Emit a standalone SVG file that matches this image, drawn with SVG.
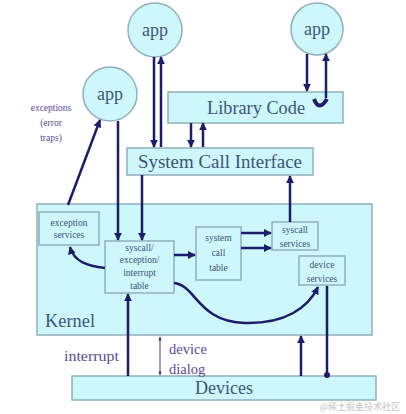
<svg xmlns="http://www.w3.org/2000/svg" width="406" height="414" viewBox="0 0 406 414">
<defs>
<style>
.box{fill:#cdf7fb;stroke:#8fb0bc;stroke-width:1.5}
.app{fill:#cdf7fb;stroke:#8fb0bc;stroke-width:1.5}
.t{font-family:"Liberation Serif",serif;fill:#3d5578}
.big{font-size:18px}
.sm{font-size:9.5px;text-anchor:middle}
.lab{font-family:"Liberation Serif",serif;fill:#5a4a96}
.ln{stroke:#1c1c6b;stroke-width:2.5;fill:none}
.thin{stroke:#3a3a7a;stroke-width:1;fill:none}
</style>
<marker id="ah" viewBox="0 0 10 10" refX="9" refY="5" markerWidth="3.2" markerHeight="3.2" orient="auto-start-reverse"><path d="M0,0 L10,5 L0,10 z" fill="#1c1c6b"/></marker>
<marker id="dt" viewBox="0 0 10 10" refX="5" refY="5" markerWidth="3" markerHeight="3"><circle cx="5" cy="5" r="4" fill="#1c1c6b"/></marker>
<marker id="sm" viewBox="0 0 10 10" refX="9" refY="5" markerWidth="4" markerHeight="4" orient="auto-start-reverse"><path d="M0,1 L10,5 L0,9 z" fill="#3a3a7a"/></marker>
</defs>
<rect width="406" height="414" fill="#ffffff"/>

<g id="kernel"><rect class="box" x="37" y="204" width="335" height="131"/><text class="t big" x="45" y="327" textLength="50" lengthAdjust="spacingAndGlyphs">Kernel</text></g>
<g id="devices"><rect class="box" x="72" y="376" width="304" height="24"/><text class="t big" x="224" y="394" text-anchor="middle">Devices</text></g>
<g id="library"><rect class="box" x="168" y="92" width="175" height="31"/><text class="t big" x="207" y="114" textLength="98" lengthAdjust="spacingAndGlyphs">Library Code</text></g>
<g id="sci"><rect class="box" x="127" y="148" width="186" height="27"/><text class="t big" x="138" y="168" textLength="164" lengthAdjust="spacingAndGlyphs">System Call Interface</text></g>

<g id="app1"><circle class="app" cx="155" cy="30" r="27"/><text class="t big" x="155" y="36" text-anchor="middle" fill="#2c3f6a">app</text></g>
<g id="app2"><circle class="app" cx="317" cy="29" r="26"/><text class="t big" x="317" y="35" text-anchor="middle">app</text></g>
<g id="app3"><circle class="app" cx="110" cy="94" r="27"/><text class="t big" x="110" y="100" text-anchor="middle">app</text></g>

<g id="exc-services"><rect class="box" x="39" y="212" width="60" height="33"/><text class="t sm" x="69" y="226">exception</text><text class="t sm" x="69" y="238">services</text></g>
<g id="vector-table"><rect class="box" x="105" y="241" width="69" height="52"/><text class="t sm" x="139.5" y="251">syscall/</text><text class="t sm" x="139.5" y="263">exception/</text><text class="t sm" x="139.5" y="276">interrupt</text><text class="t sm" x="139.5" y="289">table</text></g>
<g id="syscall-table"><rect class="box" x="196" y="227" width="45" height="53"/><text class="t sm" x="218.5" y="241">system</text><text class="t sm" x="218.5" y="256">call</text><text class="t sm" x="218.5" y="271">table</text></g>
<g id="syscall-services"><rect class="box" x="272" y="222" width="46" height="28"/><text class="t sm" x="295" y="233">syscall</text><text class="t sm" x="295" y="247">services</text></g>
<g id="device-services"><rect class="box" x="299" y="256" width="46" height="29"/><text class="t sm" x="322" y="268">device</text><text class="t sm" x="322" y="282">services</text></g>

<g id="labels">
<text class="lab" font-size="9.5" text-anchor="middle" x="51" y="111">exceptions</text>
<text class="lab" font-size="9.5" text-anchor="middle" x="51" y="126">(error</text>
<text class="lab" font-size="9.5" text-anchor="middle" x="51" y="141">traps)</text>
<text class="lab" font-size="14" x="64" y="361" textLength="55" lengthAdjust="spacingAndGlyphs">interrupt</text>
<text class="lab" font-size="14.5" x="169" y="354">device</text>
<text class="lab" font-size="14.5" x="169" y="374">dialog</text>
<text x="400" y="410" text-anchor="end" font-family="'Noto Sans CJK SC',sans-serif" font-size="9" fill="#c4c4c4">@稀土掘金技术社区</text>
</g>

<g id="connectors">
<line class="ln" x1="154" y1="57" x2="154" y2="147" marker-end="url(#ah)"/>
<line class="ln" x1="161" y1="147" x2="161" y2="57" marker-end="url(#ah)"/>
<line class="ln" x1="307" y1="54" x2="307" y2="91" marker-end="url(#ah)"/>
<line class="ln" x1="326" y1="98" x2="326" y2="54" marker-end="url(#ah)"/>
<path d="M314,99 Q319,112 327,99" stroke="#1c1c6b" stroke-width="4" fill="none"/>
<line class="ln" x1="191" y1="123" x2="191" y2="147" marker-end="url(#ah)"/>
<line class="ln" x1="203" y1="147" x2="203" y2="123" marker-end="url(#ah)"/>
<line class="ln" x1="68" y1="205" x2="100" y2="120" marker-end="url(#ah)"/>
<line class="ln" x1="118" y1="121" x2="118" y2="240" marker-end="url(#ah)"/>
<line class="ln" x1="142" y1="175" x2="142" y2="240" marker-end="url(#ah)"/>
<line class="ln" x1="290" y1="222" x2="290" y2="176" marker-end="url(#ah)"/>
<path class="ln" d="M105,268 C88,266 74,262 70,247" marker-end="url(#ah)"/>
<line class="ln" x1="174" y1="255" x2="195" y2="255" marker-end="url(#ah)"/>
<line class="ln" x1="241" y1="233" x2="271" y2="233" marker-end="url(#ah)"/>
<line class="ln" x1="241" y1="248" x2="271" y2="248" marker-end="url(#ah)"/>
<path class="ln" d="M174,283 C196,285 198,322 245,323 C285,324 308,308 318,287" marker-end="url(#ah)"/>
<line class="ln" x1="327" y1="286" x2="327" y2="375" marker-end="url(#dt)"/>
<line class="ln" x1="301" y1="376" x2="301" y2="336" marker-end="url(#ah)"/>
<line class="ln" x1="128" y1="376" x2="128" y2="294" marker-end="url(#ah)"/>
<line class="thin" x1="160" y1="337" x2="160" y2="375" marker-start="url(#sm)" marker-end="url(#sm)"/>
</g>
</svg>
